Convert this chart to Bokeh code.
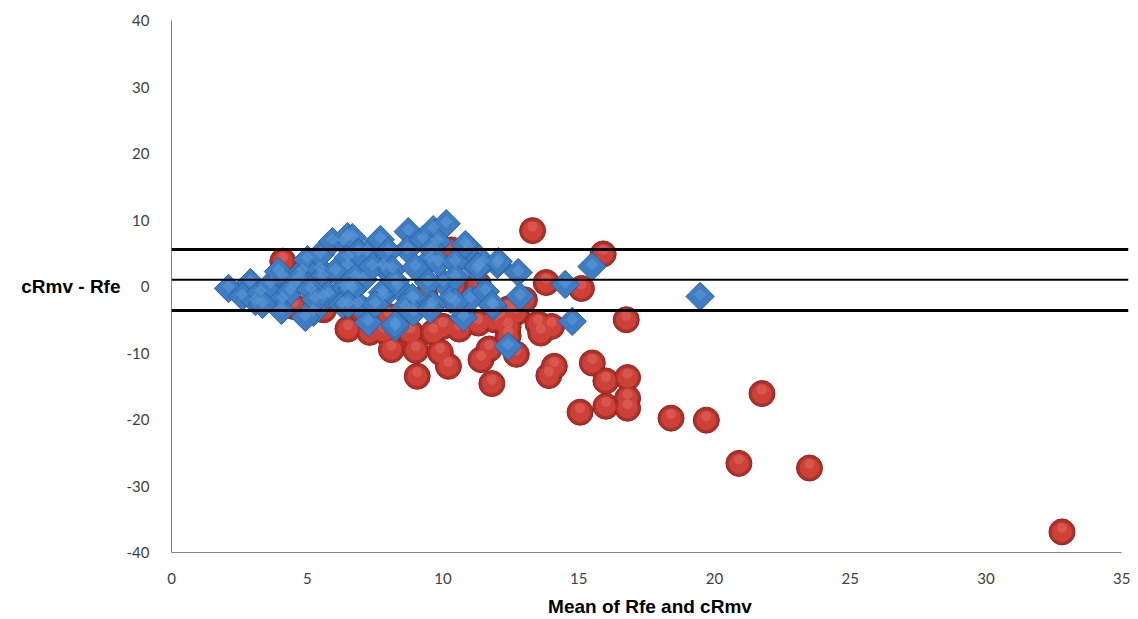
import math

from bokeh.plotting import figure
from bokeh.models import Range1d, Span, FixedTicker, PrintfTickFormatter
from bokeh.embed import file_html
from bokeh.resources import INLINE

# Bland-Altman style agreement data: mean of the two methods vs. their difference
red_x = [4.1, 4.5, 6.5, 7.3, 7.8, 8.1, 8.5, 8.8, 9.0, 9.05,
         9.65, 9.9, 10.0, 10.2, 10.3, 10.4, 11.3, 11.4, 11.7, 11.8,
         11.9, 12.1, 12.4, 12.7, 12.7, 13.3, 13.5, 13.6, 13.8, 14.0,
         13.9, 14.1, 15.1, 15.5, 15.9, 16.0, 16.0, 15.05, 16.75, 16.8,
         16.8, 16.8, 18.4, 19.7, 20.9, 21.75, 23.5, 32.8,
         7.0, 8.0, 9.35, 11.3, 12.4, 12.4, 13.0, 5.6, 10.6]
red_y = [3.8, -3.0, -6.4, -6.9, -6.7, -9.5, -6.0, -6.9, -9.6, -13.5,
         -6.9, -9.9, -6.0, -12.0, 5.5, 0.0, -5.5, -11.0, -9.4, -14.6,
         -5.0, -4.5, -7.4, -3.9, -10.2, 8.4, -5.6, -7.0, 0.6, -6.0,
         -13.4, -12.0, -0.3, -11.5, 4.9, -14.2, -18.0, -18.9, -5.0, -13.7,
         -16.8, -18.3, -19.8, -20.1, -26.6, -16.1, -27.3, -36.9,
         -3.5, -4.5, -1.6, 0.3, -3.4, -6.1, -2.0, -3.5, -6.4]

blue_x = [2.10, 2.91, 2.61, 3.09, 3.28, 3.64, 4.09, 4.09, 4.05, 4.49,
          3.94, 4.82, 5.01, 5.23, 5.48, 5.59, 5.48, 5.93, 6.33, 6.48,
          6.48, 6.59, 7.07, 7.21, 7.25, 7.69, 7.80, 7.80, 8.24, 8.32,
          8.72, 8.69, 8.91, 9.27, 9.53, 9.64, 10.12, 9.79, 10.01, 10.27,
          10.75, 10.93, 11.00, 11.48, 11.85, 12.00, 12.40, 12.77, 12.84, 14.50,
          14.76, 15.49, 19.47, 11.26, 5.56, 6.04, 6.51, 5.78, 6.40, 6.77,
          4.93, 6.88, 6.29, 6.66, 6.88, 7.99, 9.61, 7.40, 8.13, 8.98,
          9.83, 10.45, 11.30, 12.04, 6.66, 7.77, 8.87, 8.24, 9.46, 10.45,
          11.56, 11.81, 10.45, 9.61, 8.61, 7.51, 6.51, 8.24, 10.82, 3.35,
          4.38, 4.67, 5.12, 5.30, 8.91, 9.53]
blue_y = [-0.30, 0.60, -1.50, -2.25, -0.90, 0.30, 1.35, -1.95, -3.60, 0.00,
          2.25, 2.25, 4.05, -3.90, 2.55, -1.50, 4.80, 6.75, 6.75, 7.50,
          3.00, 0.00, 1.05, 5.10, -5.40, 7.05, 3.00, -1.50, -6.15, 0.00,
          8.25, 5.55, -1.95, 7.05, 4.05, 8.55, 9.45, 6.75, 0.60, -1.95,
          -4.65, 5.85, -1.95, 3.60, -3.00, 3.30, -9.00, 2.10, -1.50, 0.30,
          -5.25, 3.00, -1.50, 2.55, 1.35, 2.25, 4.35, -1.20, -0.15, 1.35,
          -4.65, -2.70, -2.70, 7.35, 5.10, 5.25, 5.55, 3.00, 2.55, 2.85,
          3.60, 3.60, 3.00, 3.75, -0.45, -0.90, -1.65, 0.75, 0.60, 1.35,
          -0.75, -2.70, -2.40, -2.70, -3.15, -2.70, -2.70, -5.70, 6.30, -2.70,
          -0.75, 1.05, -0.45, -1.95, -3.90, -3.45]

# upper limit of agreement, mean difference, lower limit of agreement
limit_values = [5.55, 1.0, -3.6]

x_ticks = [0, 5, 10, 15, 20, 25, 30, 35]
y_ticks = [-40, -30, -20, -10, 0, 10, 20, 30, 40]

p = figure(width=1138, height=619,
           x_range=Range1d(0, 35.25), y_range=Range1d(-40, 40),
           output_backend="svg", toolbar_location=None,
           min_border_left=171, min_border_right=10,
           min_border_top=20, min_border_bottom=62)
p.outline_line_color = None
p.grid.visible = False
p.background_fill_color = "white"
p.border_fill_color = "white"

# vertical data-unit offset for a few pixels (frame is ~537 px for 80 units)
units_per_px = 80.0 / 537.0

# red spheres: dark rim, lighter body, soft highlight near the top
p.scatter(red_x, red_y, marker="circle", size=26,
          fill_color="#B3302A", line_color="#8A2620", line_width=1)
p.scatter(red_x, red_y, marker="circle", size=20,
          fill_color="#CF423A", line_color=None, fill_alpha=0.95)
p.scatter(red_x, [v + 4 * units_per_px for v in red_y], marker="circle", size=10,
          fill_color="#E06A60", line_color=None, fill_alpha=0.55)

# blue diamonds
p.scatter(blue_x, blue_y, marker="square", size=20, angle=math.pi / 4,
          fill_color="#3E7DC4", line_color="#2D5F9C", line_width=1)
p.scatter(blue_x, [v + 2 * units_per_px for v in blue_y], marker="square", size=9,
          angle=math.pi / 4, fill_color="#5B97D6", line_color=None, fill_alpha=0.6)

for val, w in zip(limit_values, [3, 2, 3]):
    p.add_layout(Span(location=val, dimension="width",
                      line_color="black", line_width=w))

ax = p.xaxis[0]
ax.ticker = FixedTicker(ticks=x_ticks)
ax.formatter = PrintfTickFormatter(format="%d")
ax.bounds = (0, 35)
ax.axis_line_color = "#868686"
ax.major_tick_line_color = None
ax.minor_tick_line_color = None
ax.major_label_text_font = "Lato"
ax.major_label_text_font_size = "15px"
ax.major_label_text_color = "#404040"
ax.major_label_standoff = 14
ax.axis_label = "Mean of Rfe and cRmv"
ax.axis_label_text_font = "Liberation Sans"
ax.axis_label_text_font_style = "bold"
ax.axis_label_text_font_size = "19px"
ax.axis_label_text_color = "black"
ax.axis_label_standoff = 9

ay = p.yaxis[0]
ay.ticker = FixedTicker(ticks=y_ticks)
ay.formatter = PrintfTickFormatter(format="%d")
ay.axis_line_color = "#868686"
ay.major_tick_line_color = None
ay.minor_tick_line_color = None
ay.major_label_text_font = "Lato"
ay.major_label_text_font_size = "15px"
ay.major_label_text_color = "#404040"
ay.major_label_standoff = 16
ay.axis_label = "cRmv - Rfe"
ay.axis_label_orientation = "horizontal"
ay.axis_label_text_font = "Liberation Sans"
ay.axis_label_text_font_style = "bold"
ay.axis_label_text_font_size = "19px"
ay.axis_label_text_color = "black"
ay.axis_label_standoff = 3

open("out.html", "w").write(file_html(p, INLINE))
